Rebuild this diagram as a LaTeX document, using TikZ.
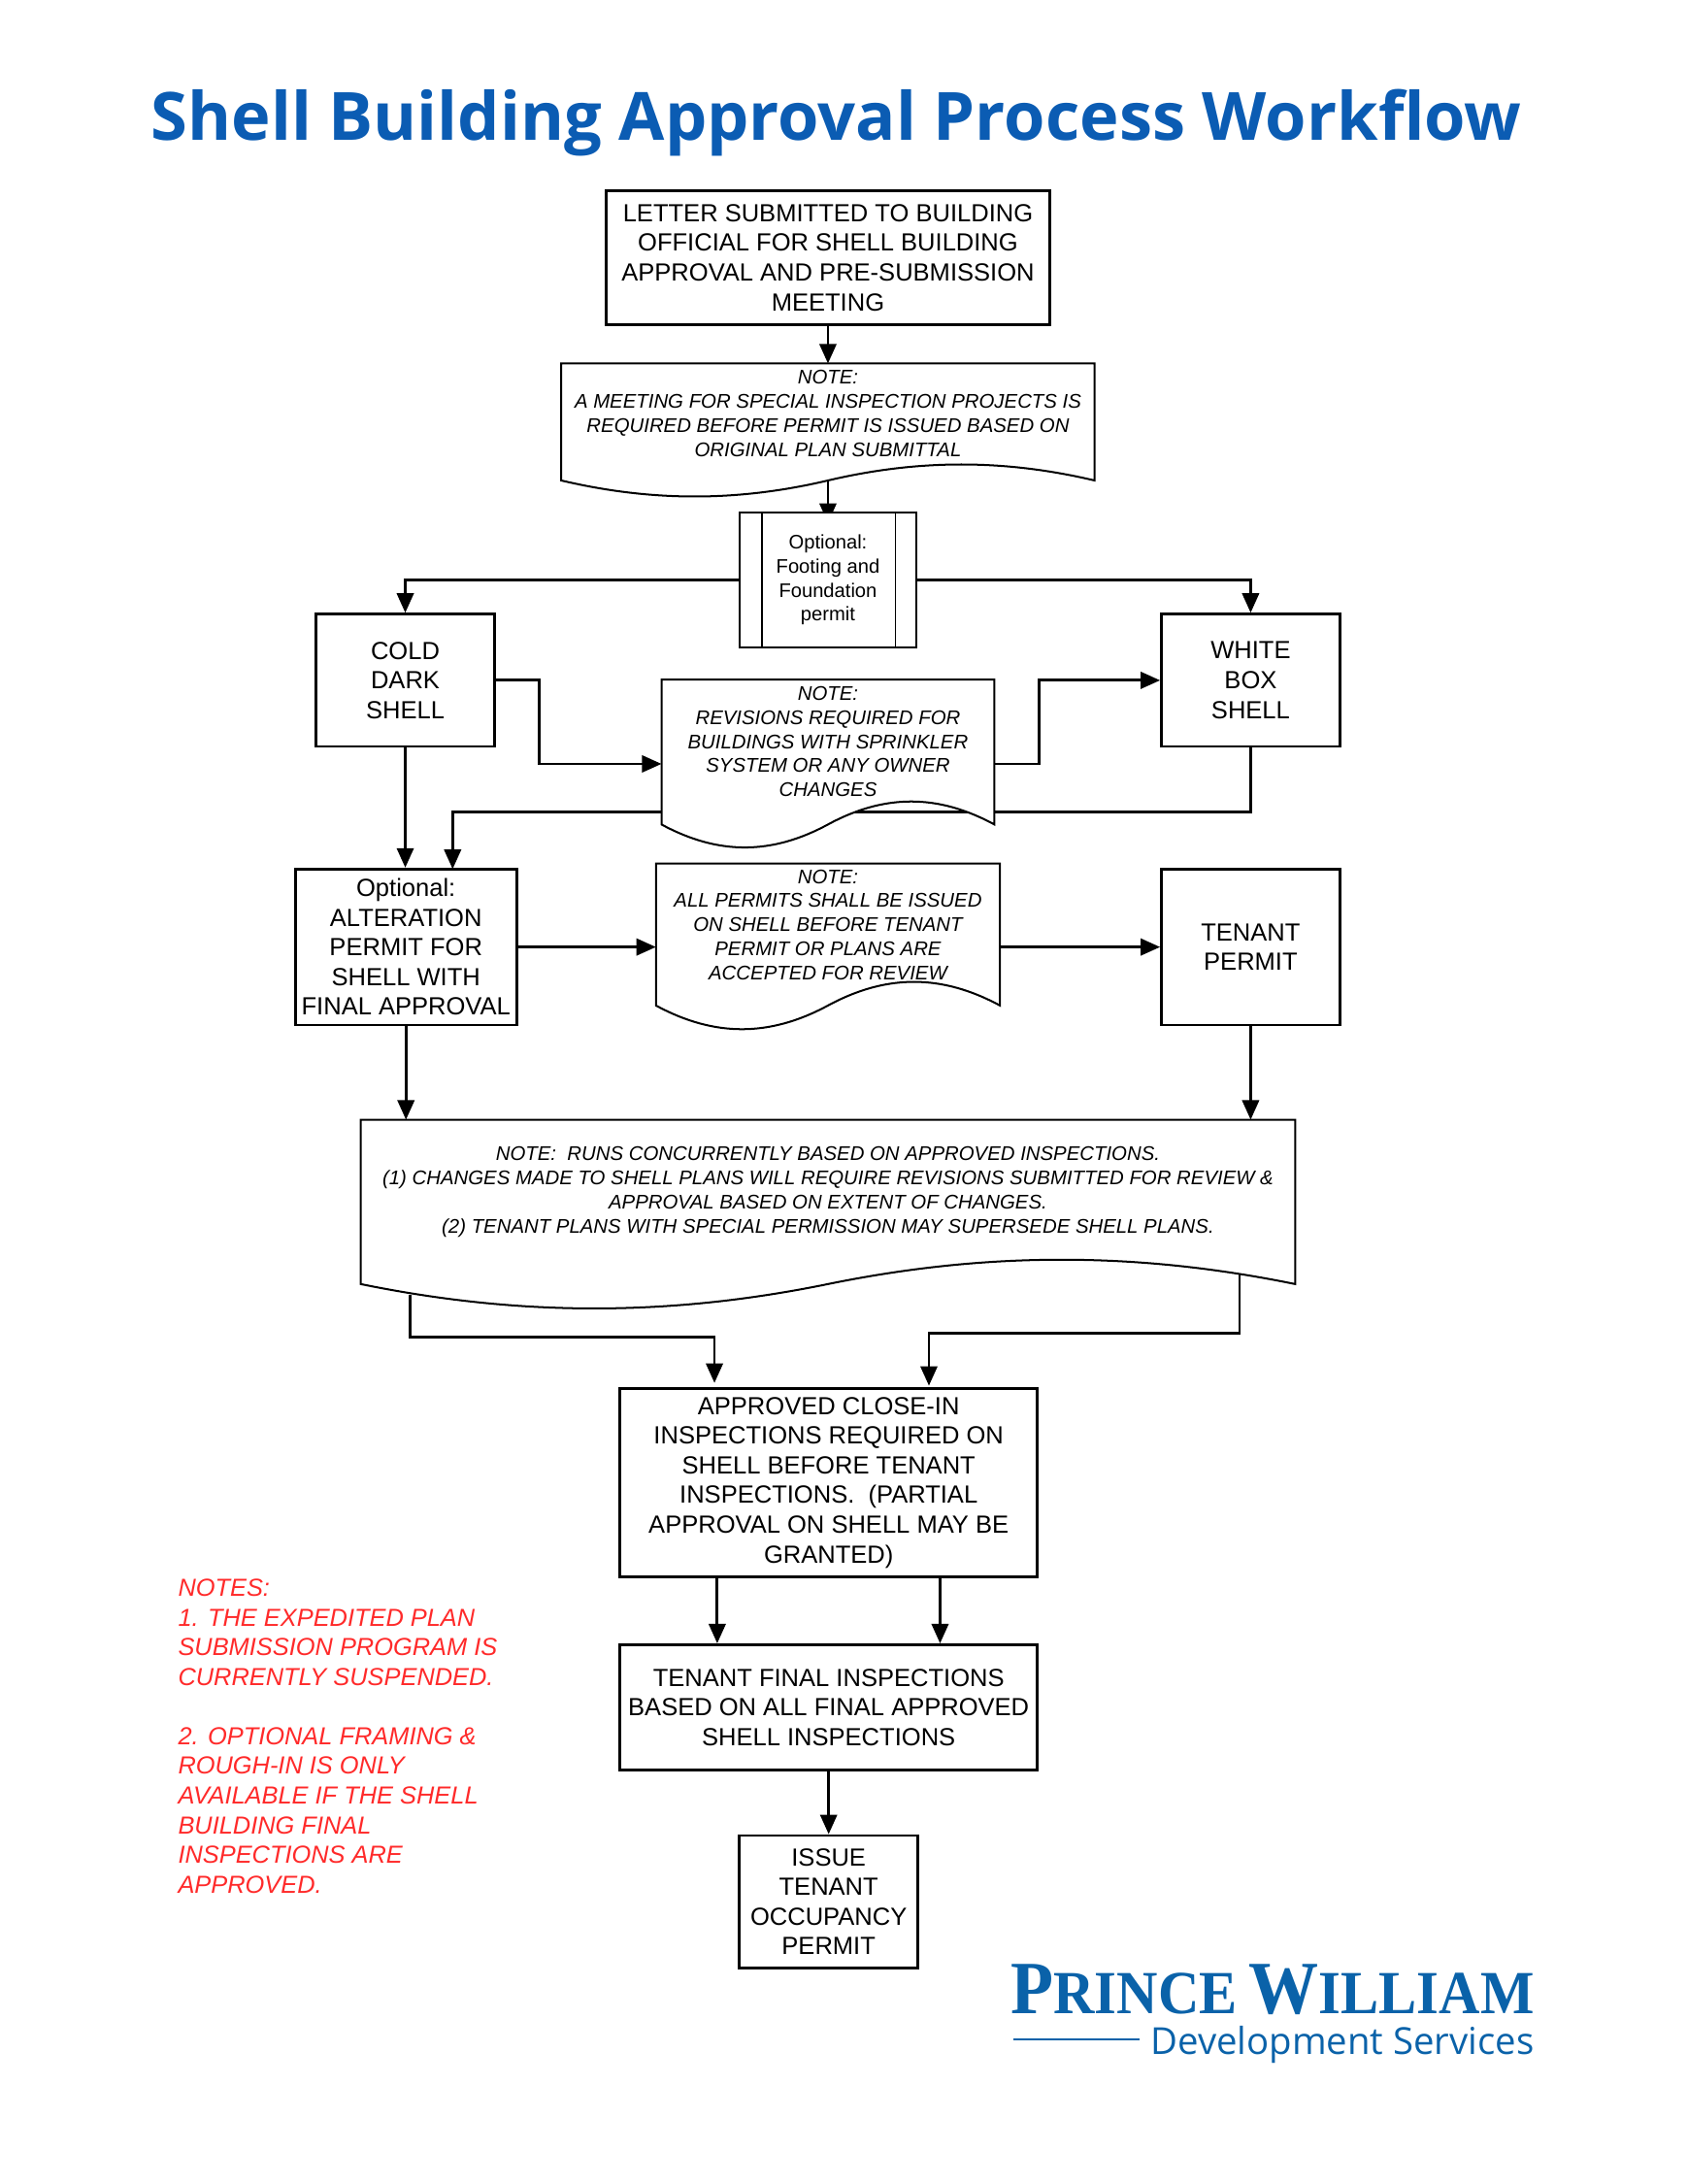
\documentclass[tikz,border=0pt]{standalone}
\usepackage{fontspec}
\setmainfont{Liberation Sans}
\newfontfamily\titlefont{Open Sans}
\newfontfamily\logofont{Liberation Serif}
\usetikzlibrary{arrows.meta}
\pgfdeclarelayer{background}
\pgfsetlayers{background,main}
\definecolor{titleblue}{HTML}{0B5CB3}
\definecolor{logoblue}{HTML}{0A62A9}
\definecolor{notered}{HTML}{FF2A2A}
\tikzset{
  flowbox/.style={draw=black,fill=white,line width=1pt,inner sep=0pt,align=center,font=\fontsize{8.9}{10.65}\selectfont},
  thinbox/.style={draw=black,fill=white,line width=.55pt,inner sep=0pt,align=center,font=\fontsize{7.03}{8.6}\selectfont},
  doccurve/.style={draw=black,fill=white,line width=.7pt},
  docframe/.style={inner sep=0pt,outer sep=0pt},
  notetext/.style={inner sep=0pt,align=center,font=\fontsize{7.1}{8.65}\selectfont\itshape},
  conn/.style={draw=black,line width=1pt},
  flow/.style={conn,-{Triangle[length=7pt,width=6pt]}}
}
% name, x0, y0, x1, y1, style, text
\newcommand\bx[7]{%
  \pgfmathsetmacro\bxcx{(#2+#4)/2}\pgfmathsetmacro\bxcy{(#3+#5)/2}%
  \pgfmathsetmacro\bxw{(#4-#2)*.5}\pgfmathsetmacro\bxh{(#5-#3)*.5}%
  \node[#6,minimum width=\bxw pt,minimum height=\bxh pt] (#1) at (\bxcx,\bxcy) {#7};}
% name, x0, ytop, x1, yb, amp, text centre y, text
\newcommand\docnote[8]{%
  \pgfmathsetmacro\qa{#2+.17*(#4-#2)}\pgfmathsetmacro\qb{#2+.33*(#4-#2)}%
  \pgfmathsetmacro\qm{#2+.5*(#4-#2)}\pgfmathsetmacro\qc{#2+.67*(#4-#2)}%
  \pgfmathsetmacro\qd{#2+.83*(#4-#2)}\pgfmathsetmacro\qlo{#5+1.333*#6}\pgfmathsetmacro\qhi{#5-1.333*#6}%
  \path[doccurve] (#2,#3) -- (#4,#3) -- (#4,#5) .. controls (\qd,\qhi) and (\qc,\qhi) .. (\qm,#5)
     .. controls (\qb,\qlo) and (\qa,\qlo) .. (#2,#5) -- cycle;
  \bx{#1}{#2}{#3}{#4}{#5}{docframe}{}%
  \node[notetext] (#1txt) at (\qm,#7) {#8};}
\begin{document}
\begin{tikzpicture}[x=.5pt,y=-.5pt]
\useasboundingbox (0,0) rectangle (1212,1568.2);
\node[inner sep=0pt,text=titleblue,font=\titlefont\bfseries\fontsize{23.9}{28}\selectfont] (title) at (600.5,88) {Shell Building Approval Process Workflow};

\bx{letter}{435}{137}{754}{233}{flowbox}{LETTER SUBMITTED TO BUILDING\\OFFICIAL FOR SHELL BUILDING\\APPROVAL AND PRE-SUBMISSION\\MEETING}
\docnote{noteA}{403}{261}{786}{345}{11.5}{297}{NOTE:\\A MEETING FOR SPECIAL INSPECTION PROJECTS IS\\REQUIRED BEFORE PERMIT IS ISSUED BASED ON\\ORIGINAL PLAN SUBMITTAL}
\bx{footing}{531}{368}{658}{465}{thinbox}{Optional:\\Footing and\\Foundation\\permit}
\draw[line width=.55pt] (547,368) -- (547,465) (643,368) -- (643,465);
\bx{cold}{227}{441}{355}{536}{flowbox}{COLD\\DARK\\SHELL}
\bx{white}{834}{441}{962}{536}{flowbox}{WHITE\\BOX\\SHELL}
\docnote{noteB}{475}{488}{714}{592}{16.5}{532.5}{NOTE:\\REVISIONS REQUIRED FOR\\BUILDINGS WITH SPRINKLER\\SYSTEM OR ANY OWNER\\CHANGES}
\bx{alter}{212}{624}{371}{736}{flowbox}{Optional:\\ALTERATION\\PERMIT FOR\\SHELL WITH\\FINAL APPROVAL}
\docnote{noteC}{471}{620}{718}{722}{17}{664}{NOTE:\\ALL PERMITS SHALL BE ISSUED\\ON SHELL BEFORE TENANT\\PERMIT OR PLANS ARE\\ACCEPTED FOR REVIEW}
\bx{tenant}{834}{624}{962}{736}{flowbox}{TENANT\\PERMIT}
\docnote{noteD}{259}{804}{930}{922}{17.5}{856}{NOTE:\ \ RUNS CONCURRENTLY BASED ON APPROVED INSPECTIONS.\\(1) CHANGES MADE TO SHELL PLANS WILL REQUIRE REVISIONS SUBMITTED FOR REVIEW \&\\APPROVAL BASED ON EXTENT OF CHANGES.\\(2) TENANT PLANS WITH SPECIAL PERMISSION MAY SUPERSEDE SHELL PLANS.}
\bx{closein}{445}{997}{745}{1132}{flowbox}{APPROVED CLOSE-IN\\INSPECTIONS REQUIRED ON\\SHELL BEFORE TENANT\\INSPECTIONS.\ \ (PARTIAL\\APPROVAL ON SHELL MAY BE\\GRANTED)}
\bx{final}{445}{1181}{745}{1271}{flowbox}{TENANT FINAL INSPECTIONS\\BASED ON ALL FINAL APPROVED\\SHELL INSPECTIONS}
\bx{issue}{531}{1318}{659}{1413}{flowbox}{ISSUE\\TENANT\\OCCUPANCY\\PERMIT}

\coordinate (jl) at (387,548.5);
\coordinate (jr) at (746,548.5);
\coordinate (jm) at (325,583);
\coordinate (dropM) at (325,624);
\coordinate (nDl) at (294.5,930);
\coordinate (nDr) at (890,915);
\coordinate (ja) at (513,960);
\coordinate (jb) at (667,957);
\coordinate (tipa) at (513,993);
\coordinate (tipb) at (667,995);
\coordinate (clA) at (515,1132);
\coordinate (clB) at (675,1132);
\begin{pgfonlayer}{background}
\path[flow] (letter) -- (noteA);
\path[flow,shorten >=-4pt] (noteA.south) -- (footing.north);
\path[flow] (footing.west) -| (cold.north);
\path[flow] (footing.east) -| (white.north);
\path[flow] (cold.east) -| (jl) -- (jl -| noteB.west);
\path[flow] (jr -| noteB.east) -- (jr) |- (white.west);
\path[flow] (white.south) |- (jm) -- (dropM);
\path[flow] (cold.south) -- (cold.south |- alter.north);
\path[flow] (alter.east) -- (alter.east -| noteC.west);
\path[flow] (alter.east -| noteC.east) -- (tenant.west);
\path[flow] (alter.south) -- (alter.south |- noteD.north);
\path[flow] (tenant.south) -- (tenant.south |- noteD.north);
\path[flow] (nDl) |- (ja) -- (tipa);
\path[flow] (nDr) |- (jb) -- (tipb);
\path[flow] (clA) -- (clA |- final.north);
\path[flow] (clB) -- (clB |- final.north);
\path[flow] (final) -- (issue);
\end{pgfonlayer}

\node[inner sep=0pt,anchor=north west,align=left,text=notered,font=\fontsize{8.85}{10.65}\selectfont\itshape] (rednotes) at (127.5,1133.5) {NOTES:\\1. THE EXPEDITED PLAN\\SUBMISSION PROGRAM IS\\CURRENTLY SUSPENDED.\\[10.65pt]2. OPTIONAL FRAMING \&\\ROUGH-IN IS ONLY\\AVAILABLE IF THE SHELL\\BUILDING FINAL\\INSPECTIONS ARE\\APPROVED.};

\node[inner sep=0pt,anchor=base east,xscale=.93,text=logoblue,font=\logofont\bfseries] (logoname) at (1102,1446) {{\fontsize{27}{27}\selectfont P}{\fontsize{22}{22}\selectfont RINCE}\hspace{2pt} {\fontsize{27}{27}\selectfont W}{\fontsize{22}{22}\selectfont ILLIAM}};
\node[inner sep=0pt,anchor=base east,text=logoblue,font=\titlefont\fontsize{13.36}{15}\selectfont] (logosub) at (1102,1475) {Development Services};
\coordinate (rulel) at (727.5,1464.5);
\coordinate (ruler) at (818.5,1464.5);
\draw[logoblue,line width=.7pt] (rulel) -- (ruler);
\end{tikzpicture}
\end{document}
